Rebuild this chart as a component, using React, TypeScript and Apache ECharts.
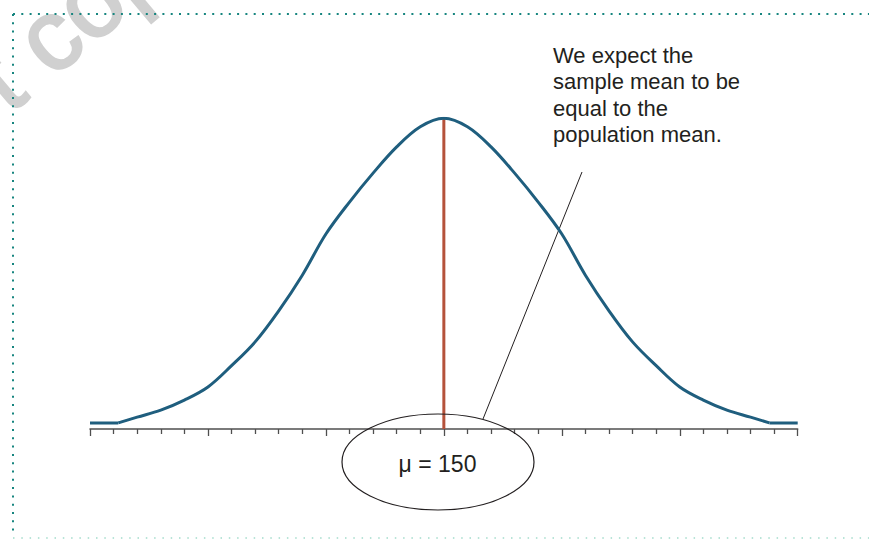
import React, { useEffect, useRef } from "react";
import * as echarts from "echarts";

// Positions along the horizontal scale (tick units, mean at 15) and the
// relative height of the sampling distribution at each of them (peak = 100).
const curveX = [1.2, 2, 3, 4, 5, 6, 7, 8, 9, 10, 11, 12, 13, 14, 15, 16, 17, 18, 19, 20, 21, 22, 23, 24, 25, 26, 27, 28, 28.8];
const curveY = [0, 1.9, 4.2, 7.5, 11.8, 18.8, 26.6, 36.8, 48.5, 62, 72.5, 82, 90.6, 97.2, 100, 97.2, 90.6, 82, 72.5, 62, 48.5, 36.8, 26.6, 18.8, 11.8, 7.5, 4.2, 1.9, 0];

// Flat tails of the curve running out to the ends of the scale.
const tailLeftX = [0, 1.2];
const tailRightX = [28.8, 30];

const meanX = 15;
const peakY = 100;
const axisMin = 0;
const axisMax = 30;
const majorInterval = 5;

const meanLabel = "μ = 150";
const note = ["We expect the", "sample mean to be", "equal to the", "population mean."];
const watermark = "not copy, post";

export default function App() {
  const ref = useRef<HTMLDivElement>(null);

  useEffect(() => {
    document.body.style.margin = "0";
    if (!ref.current) return;
    const chart = echarts.init(ref.current, null, { renderer: "svg" });

    const curve = curveX.map((x, i) => [x, curveY[i]]);
    const tailL = tailLeftX.map((x) => [x, 0]);
    const tailR = tailRightX.map((x) => [x, 0]);

    const curveColor = "#1f5e7e";
    const lineStyle = { color: curveColor, width: 3 };

    chart.setOption({
      animation: false,
      grid: { left: 90, right: 71.3, top: 118.3, bottom: 110 },
      xAxis: {
        type: "value",
        min: axisMin,
        max: axisMax,
        interval: majorInterval,
        axisLine: { onZero: false, lineStyle: { color: "#4f4f4f", width: 1.5 } },
        axisTick: { show: true, length: 7, lineStyle: { color: "#4f4f4f", width: 1.3 } },
        minorTick: { show: true, splitNumber: 5, length: 5, lineStyle: { color: "#4f4f4f", width: 1.3 } },
        axisLabel: { show: false },
        splitLine: { show: false },
        minorSplitLine: { show: false },
      },
      yAxis: { type: "value", min: -2, max: 100, show: false },
      series: [
        {
          type: "line",
          data: [[meanX, -2], [meanX, peakY]],
          showSymbol: false,
          lineStyle: { color: "#b5523b", width: 3 },
          z: 2,
        },
        {
          type: "line",
          data: tailL,
          showSymbol: false,
          lineStyle,
          z: 3,
        },
        {
          type: "line",
          data: tailR,
          showSymbol: false,
          lineStyle,
          z: 3,
        },
        {
          type: "line",
          data: curve,
          smooth: 0.35,
          showSymbol: false,
          lineStyle,
          z: 3,
        },
      ],
      graphic: [
        {
          type: "text",
          x: -66,
          y: 198,
          rotation: 0.7,
          silent: true,
          z: 0,
          style: {
            text: watermark,
            font: '100px "Liberation Sans"',
            fill: "#d0d0d0",
            stroke: "#d0d0d0",
            lineWidth: 2.5,
            textAlign: "left",
            textVerticalAlign: "bottom",
          },
        },
        {
          type: "line",
          shape: { x1: 13, y1: 14, x2: 869, y2: 14 },
          style: { stroke: "#16857f", lineWidth: 2, lineDash: [2, 6.3] },
        },
        {
          type: "line",
          shape: { x1: 13, y1: 14, x2: 13, y2: 534 },
          style: { stroke: "#16857f", lineWidth: 2, lineDash: [2, 6.3] },
        },
        {
          type: "line",
          shape: { x1: 13, y1: 538, x2: 869, y2: 538 },
          style: { stroke: "#a3dccb", lineWidth: 1.5, lineDash: [1.5, 6.8] },
        },
        {
          type: "text",
          x: 553,
          y: 42,
          style: {
            text: note.join("\n"),
            font: '22px "Liberation Sans"',
            lineHeight: 26.5,
            fill: "#231f20",
            textAlign: "left",
            textVerticalAlign: "top",
          },
        },
        {
          type: "line",
          shape: { x1: 582, y1: 172, x2: 483, y2: 419 },
          style: { stroke: "#231f20", lineWidth: 1 },
        },
        {
          type: "ellipse",
          shape: { cx: 438, cy: 462, rx: 96, ry: 48 },
          style: { stroke: "#231f20", lineWidth: 1.2, fill: "none" },
          z: 10,
        },
        {
          type: "text",
          x: 437.5,
          y: 464,
          style: {
            text: meanLabel,
            font: '23px "Liberation Sans"',
            fill: "#231f20",
            textAlign: "center",
            textVerticalAlign: "middle",
          },
        },
      ],
    });

    return () => chart.dispose();
  }, []);

  return <div ref={ref} style={{ width: 869, height: 539 }} />;
}
